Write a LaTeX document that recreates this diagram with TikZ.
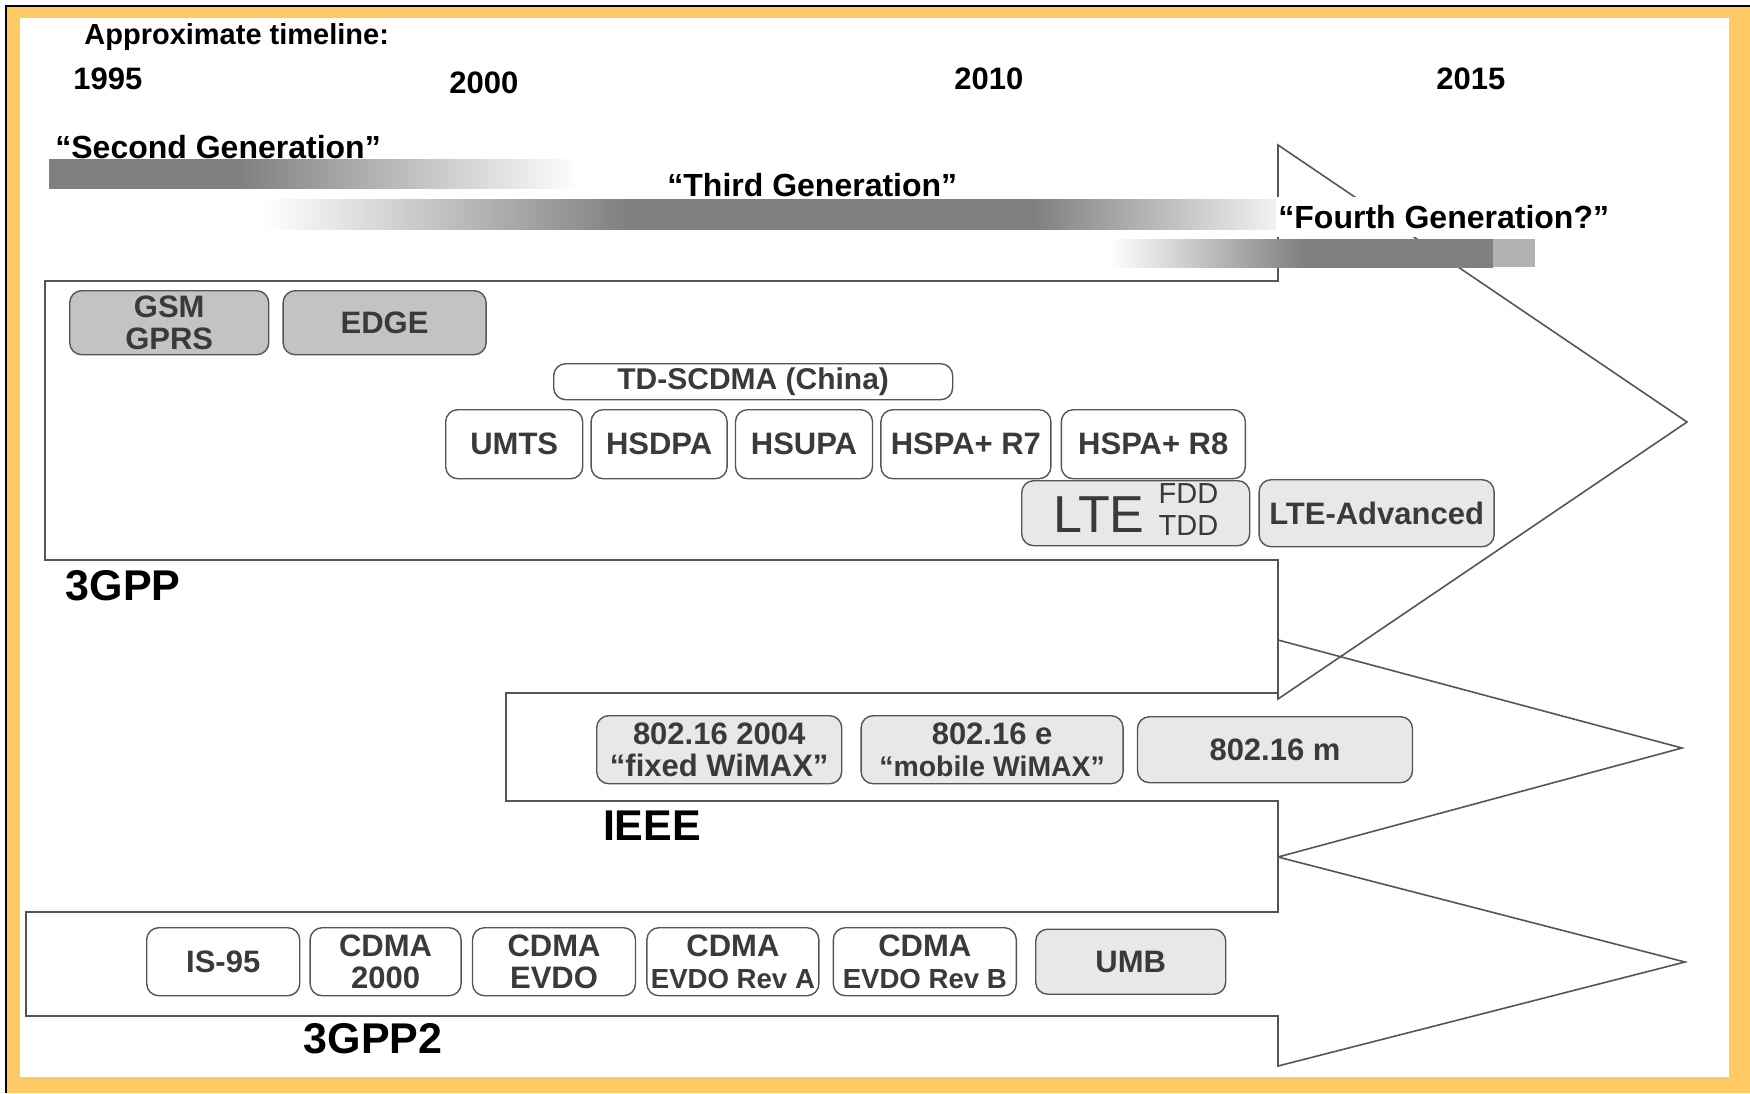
\documentclass[tikz,border=0pt]{standalone}
\usepackage{fontspec}
\setmainfont{Liberation Sans}
\usepackage{tikz}
\usetikzlibrary{positioning}
\usepackage{xcolor}

\definecolor{framegold}{HTML}{FFCA63}
\definecolor{edgegray}{HTML}{555555}
\definecolor{textgray}{HTML}{3A3A3A}
\definecolor{oldfill}{HTML}{C3C3C3}
\definecolor{newfill}{HTML}{E8E8E8}
\definecolor{bargray}{HTML}{808080}
\definecolor{fadegray}{HTML}{F2F2F2}

\pgfdeclarehorizontalshading{secondbar}{100bp}{color(0bp)=(bargray); color(25bp)=(bargray);
  color(43bp)=(bargray); color(75bp)=(white); color(100bp)=(white)}
\pgfdeclarehorizontalshading{thirdbar}{100bp}{color(0bp)=(white); color(25bp)=(white);
  color(43bp)=(bargray); color(63bp)=(bargray); color(75bp)=(fadegray); color(100bp)=(fadegray)}
\pgfdeclarehorizontalshading{fourthbar}{100bp}{color(0bp)=(white); color(25bp)=(white);
  color(50bp)=(bargray); color(75bp)=(bargray); color(100bp)=(bargray)}

\newcommand{\techfont}{\bfseries\fontsize{15.5}{16}\selectfont}
\newcommand{\revfont}{\fontsize{13.8}{15}\selectfont}

\begin{document}
\begin{tikzpicture}[
    x=0.5pt, y=-0.5pt,
    tech/.style={draw=edgegray, line width=0.7pt, rounded corners=6pt, inner sep=0pt,
      align=center, text=textgray, font=\techfont},
    oldtech/.style={tech, fill=oldfill},
    newtech/.style={tech, fill=newfill},
    curtech/.style={tech, fill=white},
    trunk/.style={draw=edgegray, line width=0.8pt},
    org/.style={font=\bfseries\fontsize{21.5}{22}\selectfont, inner sep=0pt},
    gen/.style={font=\bfseries\fontsize{16}{16}\selectfont, anchor=west, inner sep=1pt},
    year/.style={font=\bfseries\fontsize{15.5}{16}\selectfont, anchor=west, inner sep=0pt}
  ]
  \useasboundingbox (0,0) rectangle (1750,1093);
  % frame
  \fill[framegold] (6,6) rectangle (1750,1093);
  \draw[black, line width=0.6pt] (6,1093) -- (6,6) -- (1750,6);
  \fill[white] (20,18) rectangle (1729,1077);

  % the three big arrows
  \draw[trunk] (1278,281) -- (45,281) -- (45,560) -- (1278,560) -- (1278,699)
    -- (1687,422) -- (1278,145) -- cycle;
  \draw[trunk] (1278,693) -- (506,693) -- (506,801) -- (1278,801) -- (1278,857)
    -- (1682,748) -- (1278,640) -- cycle;
  \draw[trunk] (1278,912) -- (26,912) -- (26,1016) -- (1278,1016) -- (1278,1066)
    -- (1685,962) -- (1278,857) -- cycle;

  % timeline
  \node[anchor=west, inner sep=0pt, font=\bfseries\fontsize{14.5}{15}\selectfont] (timeline) at (84,37) {Approximate timeline:};
  \node[year] (y95) at (73,79) {1995};
  \node[year] (y00) at (449,83) {2000};
  \node[year] (y10) at (954,79) {2010};
  \node[year] (y15) at (1436,79) {2015};

  % generation bars
  \shade[shading=secondbar] (49,159) rectangle (580,188);
  \node[gen] (gen2) at (53,147) {“Second Generation”};

  \shade[shading=thirdbar] (264,199) rectangle (1276,229);
  \node[gen] (gen3) at (665,185) {“Third Generation”};

  \node[gen, fill=white, inner ysep=4pt] (gen4) at (1276,217) {“Fourth Generation?”};
  \shade[shading=fourthbar] (1110,239) rectangle (1493,267);
  \fill[black!30] (1493,239) rectangle (1535,267);

  % 3GPP
  \node[oldtech, minimum width=99.5pt, minimum height=32pt, anchor=north west] (gsm) at (69,290) {GSM\\GPRS};
  \node[oldtech, minimum width=101.5pt, minimum height=32pt, right=6.5pt of gsm] (edge) {EDGE};
  \node[curtech, minimum width=199.5pt, minimum height=18pt, anchor=north west,
    font=\techfont\fontsize{15}{15}\selectfont] (tdscdma) at (553,363) {TD-SCDMA (China)};
  \node[curtech, minimum width=68.5pt, minimum height=34.5pt, anchor=north west] (umts) at (445,409) {UMTS};
  \node[curtech, minimum width=68pt, minimum height=34.5pt, right=3.5pt of umts] (hsdpa) {HSDPA};
  \node[curtech, minimum width=68.5pt, minimum height=34.5pt, right=3.5pt of hsdpa] (hsupa) {HSUPA};
  \node[curtech, minimum width=85pt, minimum height=34.5pt, right=3.5pt of hsupa] (hspaR7) {HSPA+ R7};
  \node[curtech, minimum width=92pt, minimum height=34.5pt, right=4.5pt of hspaR7] (hspaR8) {HSPA+ R8};
  \node[newtech, minimum width=114pt, minimum height=32.5pt, anchor=north west, font=\mdseries] (lte) at (1021,480)
    {\fontsize{26}{26}\selectfont LTE\hspace{7pt}\fontsize{14.5}{16}\selectfont\raisebox{6pt}{\begin{tabular}[c]{@{}c@{}}FDD\\TDD\end{tabular}}};
  \node[newtech, minimum width=117.5pt, minimum height=33.5pt, right=4pt of lte] (lteadv) {LTE-Advanced};
  \node[org] (gpp) at (123,586) {3GPP};

  % IEEE
  \node[newtech, minimum width=122.5pt, minimum height=34pt, anchor=north west] (wimaxF) at (596,715) {802.16 2004\\“fixed WiMAX”};
  \node[newtech, minimum width=131pt, minimum height=34pt, right=9pt of wimaxF] (wimaxE) {802.16 e\\{\fontsize{14.2}{16}\selectfont “mobile WiMAX”}};
  \node[newtech, minimum width=137.5pt, minimum height=33pt, right=6.5pt of wimaxE] (wimaxM) {802.16 m};
  \node[org] (ieee) at (652,826) {IEEE};

  % 3GPP2
  \node[curtech, minimum width=76.5pt, minimum height=34pt, anchor=north west] (is95) at (146,927) {IS-95};
  \node[curtech, minimum width=75.5pt, minimum height=34pt, right=4.5pt of is95] (cdma2000) {CDMA\\2000};
  \node[curtech, minimum width=81.5pt, minimum height=34pt, right=5pt of cdma2000] (evdo) {CDMA\\EVDO};
  \node[curtech, minimum width=86pt, minimum height=34pt, right=5pt of evdo] (evdoA) {CDMA\\{\revfont EVDO Rev A}};
  \node[curtech, minimum width=91.5pt, minimum height=34pt, right=6.5pt of evdoA] (evdoB) {CDMA\\{\revfont EVDO Rev B}};
  \node[newtech, minimum width=95pt, minimum height=32.5pt, right=9pt of evdoB] (umb) {UMB};
  \node[org] (gpp2) at (373,1039) {3GPP2};
\end{tikzpicture}
\end{document}
